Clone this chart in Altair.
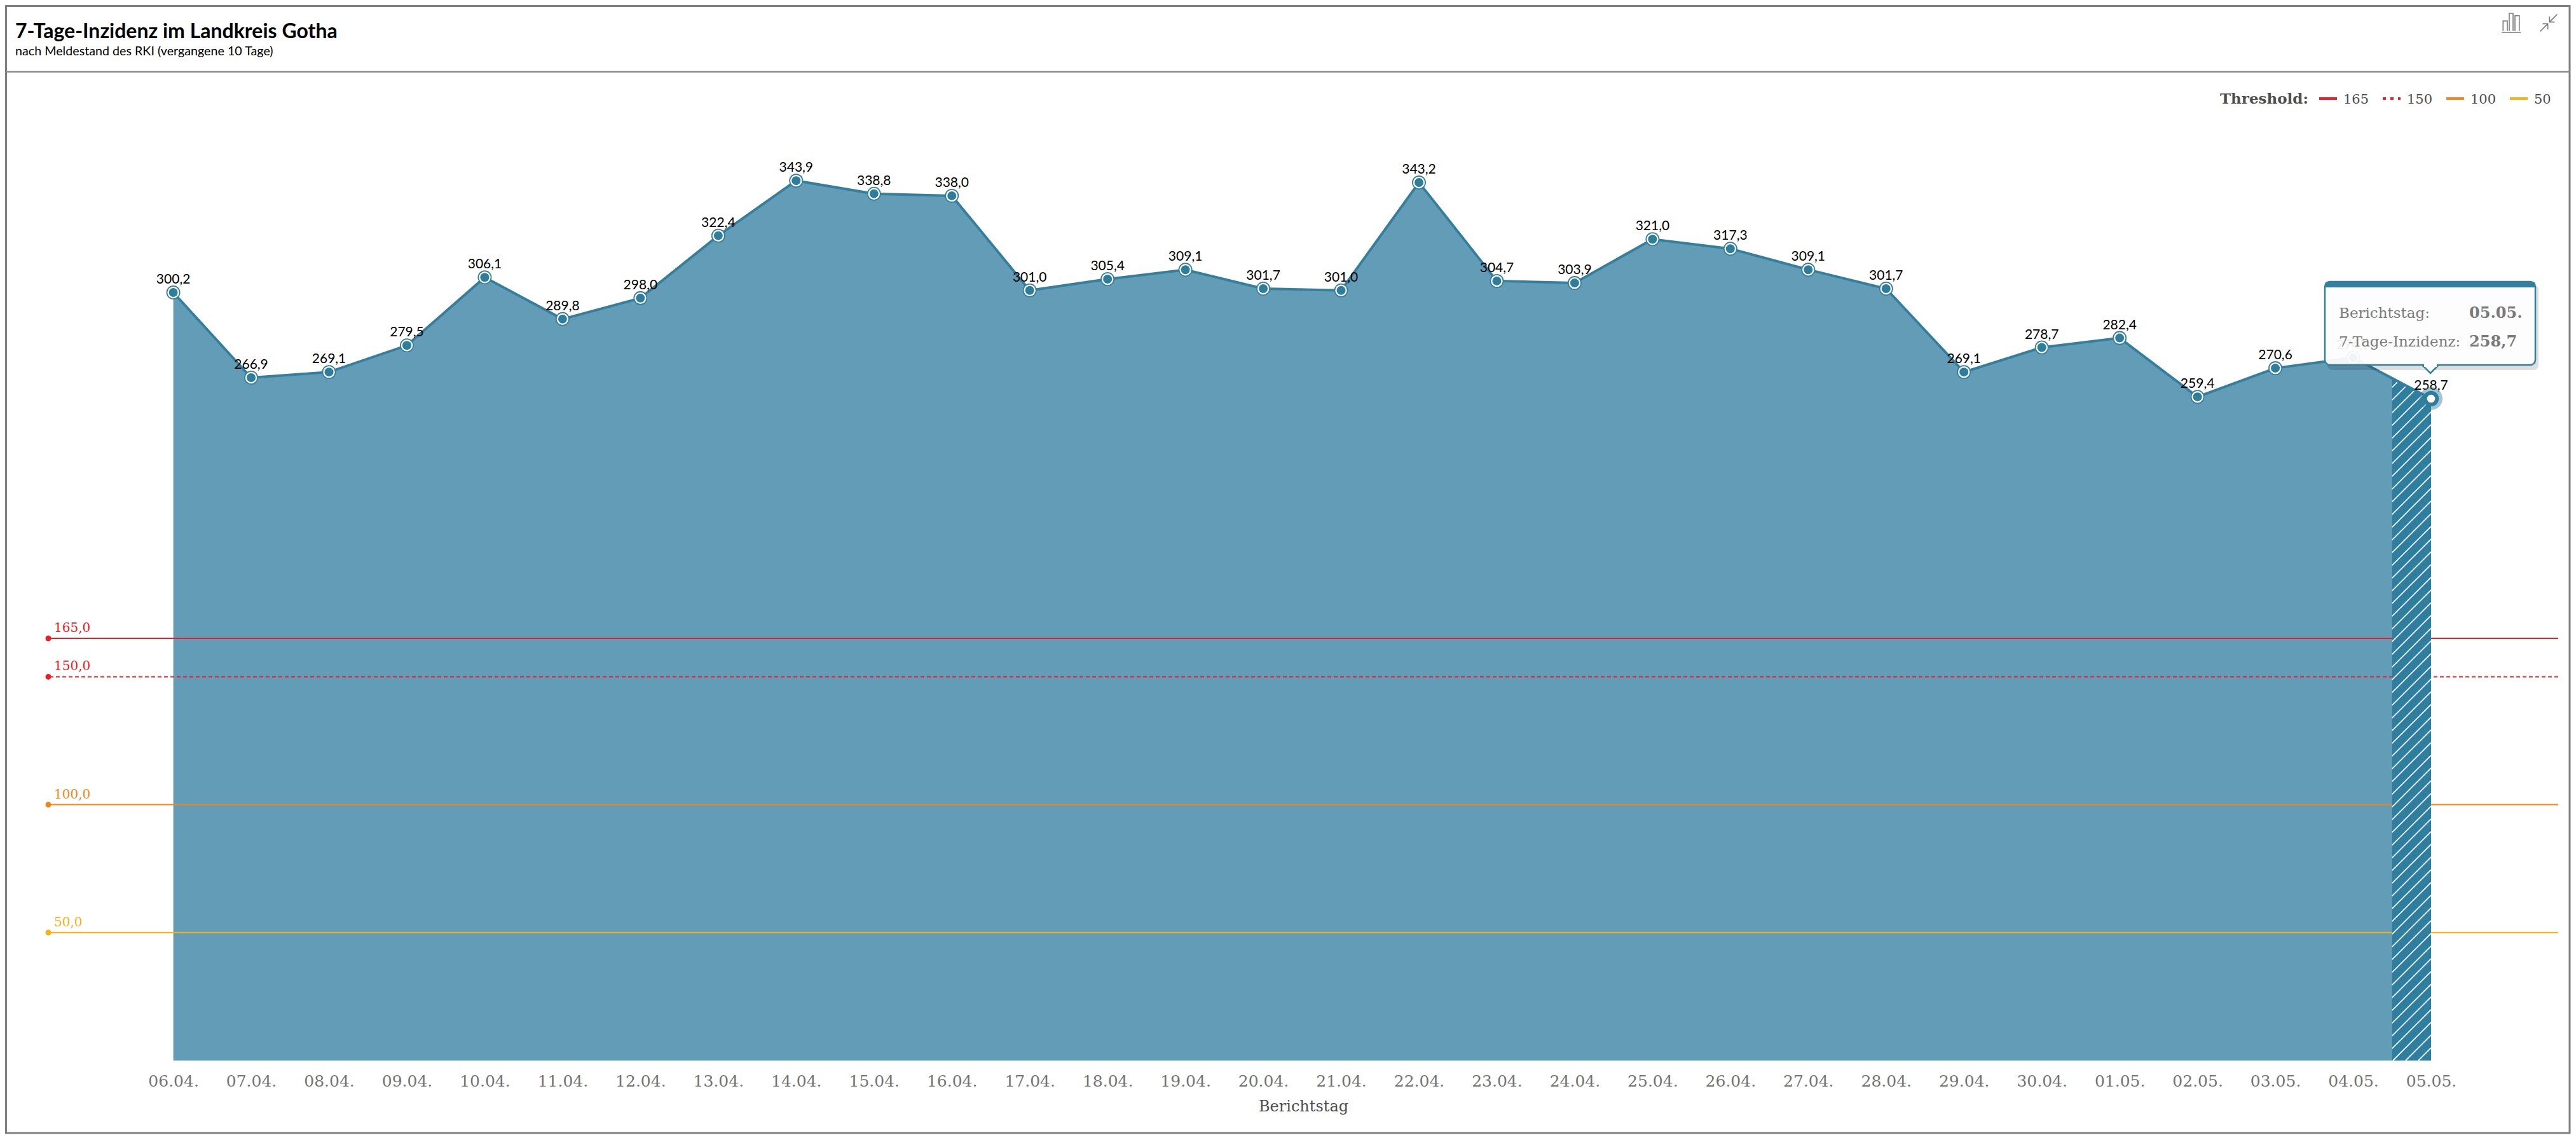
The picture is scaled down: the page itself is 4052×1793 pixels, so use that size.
import altair as alt
import pandas as pd

days = ["06.04.","07.04.","08.04.","09.04.","10.04.","11.04.","12.04.","13.04.","14.04.","15.04.",
        "16.04.","17.04.","18.04.","19.04.","20.04.","21.04.","22.04.","23.04.","24.04.","25.04.",
        "26.04.","27.04.","28.04.","29.04.","30.04.","01.05.","02.05.","03.05.","04.05.","05.05."]
values = [300.2,266.9,269.1,279.5,306.1,289.8,298.0,322.4,343.9,338.8,
          338.0,301.0,305.4,309.1,301.7,301.0,343.2,304.7,303.9,321.0,
          317.3,309.1,301.7,269.1,278.7,282.4,259.4,270.6,274.7,258.7]
threshold_values = [165, 150, 100, 50]
threshold_colors = ["#ee1c25", "#ee1c25", "#f08519", "#f7b015"]
threshold_labels = ["165,0", "150,0", "100,0", "50,0"]

SERIF = "DejaVu Serif"
SANS = "Lato"
LINE = "#347f9e"
FILL = "#639cb7"
DARK = "#2e7d9c"

# page geometry
PX_L, PX_R, PX_T, PX_B = 76, 4024, 8, 1668
W, H = PX_R - PX_L, PX_B - PX_T
PX_FIRST, PX_LAST = 272.6, 3824
STEP = (PX_LAST - PX_FIRST) / (len(days) - 1)
UNIT = 4.024
x_dom = [-(PX_FIRST - PX_L) / STEP, (len(days) - 1) + (PX_R - PX_LAST) / STEP]
y_dom = [0, H / UNIT]

def vx(px):
    return alt.value(px - PX_L)

def vy(py):
    return alt.value(py - PX_T)

df = pd.DataFrame({"i": list(range(len(days))), "day": days, "v": values,
                   "label": [f"{v:.1f}".replace(".", ",") for v in values]})
df_t = pd.DataFrame({"t": threshold_values, "c": threshold_colors, "label": threshold_labels,
                     "dash": [0, 1, 0, 0]})

xs = alt.Scale(domain=x_dom, nice=False, zero=False)
ys = alt.Scale(domain=y_dom, nice=False, zero=True)
label_expr = "[" + ",".join(f"'{d}'" for d in days) + "][datum.value]"
X = alt.X("i:Q", scale=xs, axis=None)
Y = alt.Y("v:Q", scale=ys, axis=None)

base = alt.Chart(df)

frame = alt.Chart(pd.DataFrame({"a": [0]})).mark_rect(fill="white", stroke="#808080", strokeWidth=3).encode(
    x=vx(9.5), x2=vx(4042), y=vy(9.5), y2=vy(1782))
sep = alt.Chart(pd.DataFrame({"a": [0]})).mark_rule(color="#8c8c8c", strokeWidth=2.5).encode(
    x=vx(9.5), x2=vx(4042), y=vy(113))

axis_layer = base.mark_area(color=FILL, opacity=1, line=False).encode(
    x=alt.X("i:Q", scale=xs, title="Berichtstag",
            axis=alt.Axis(values=list(range(len(days))), labelExpr=label_expr, grid=False, domain=False,
                          ticks=False, labelFont=SERIF, labelFontSize=25, labelColor="#737373",
                          labelPadding=20, labelOverlap=False, labelFlush=False, zindex=1,
                          titleFont=SERIF, titleFontSize=24, titleFontWeight="normal",
                          titleColor="#4d4d4d", titlePadding=15)),
    y=Y)

rules = alt.Chart(df_t).mark_rule(strokeWidth=2).encode(
    y=alt.Y("t:Q", scale=ys, axis=None),
    color=alt.Color("c:N", scale=None),
    strokeDash=alt.StrokeDash("dash:N", scale=alt.Scale(domain=[0, 1], range=[[1, 0], [6, 4]]), legend=None))
dots = alt.Chart(df_t).mark_circle(size=81, opacity=1).encode(
    x=alt.value(0), y=alt.Y("t:Q", scale=ys, axis=None), color=alt.Color("c:N", scale=None))
t_labels = alt.Chart(df_t).mark_text(font=SERIF, fontSize=20, align="left", dx=9, dy=-10, baseline="alphabetic", fontWeight=500).encode(
    x=alt.value(0), y=alt.Y("t:Q", scale=ys, axis=None), text="label:N", color=alt.Color("c:N", scale=None))

# hatched last segment
mid = (values[-2] + values[-1]) / 2
last_i = len(days) - 1
x0 = last_i - 0.5
df_h = pd.DataFrame({"i": [x0, last_i], "v": [mid, values[-1]]})
hatch_base = alt.Chart(df_h).mark_area(color=DARK, opacity=0.96).encode(x=alt.X("i:Q", scale=xs, axis=None), y=Y)

rows = []
slope = STEP / UNIT          # value units per day at 45 degrees
gap = 20 / UNIT              # vertical distance between hatch lines
m = (values[-1] - mid) / 0.5
k = 0
c = -0.5 * slope
while c < mid:
    sx = 0.0 if c >= 0 else -c / slope
    sy = c + sx * slope
    ex = min(0.5, (mid - c) / (slope - m))
    ey = c + ex * slope
    if ex > sx:
        rows += [{"k": k, "i": x0 + sx, "v": sy}, {"k": k, "i": x0 + ex, "v": ey}]
    k += 1
    c += gap
hatch = alt.Chart(pd.DataFrame(rows)).mark_line(color="white", strokeWidth=1.8, opacity=0.9).encode(
    x=alt.X("i:Q", scale=xs, axis=None), y=Y, detail="k:N")

line = base.mark_line(color=LINE, strokeWidth=4).encode(x=X, y=Y)
p_out = base.mark_circle(size=484, color=LINE, opacity=1).encode(x=X, y=Y)
p_mid = base.mark_circle(size=340, color="white", opacity=1).encode(x=X, y=Y)
p_in = base.mark_circle(size=196, color=DARK, opacity=1).encode(x=X, y=Y)
labels = base.mark_text(font=SANS, fontSize=21, color="black", dy=-14, baseline="alphabetic", align="center").encode(
    x=X, y=Y, text="label:N")

df_last = df.iloc[[-1]]
halo = alt.Chart(df_last).mark_circle(size=1296, color="#347f9e", opacity=0.45).encode(x=X, y=Y)
halo2 = alt.Chart(df_last).mark_circle(size=600, color=DARK, opacity=1).encode(x=X, y=Y)
halo3 = alt.Chart(df_last).mark_circle(size=160, color="white", opacity=1).encode(x=X, y=Y)

one = pd.DataFrame({"a": [0]})

def box(x1, x2, y1, y2, **kw):
    return alt.Chart(one).mark_rect(**kw).encode(x=vx(x1), x2=vx(x2), y=vy(y1), y2=vy(y2))

def txt(s, px, py, **kw):
    return alt.Chart(pd.DataFrame({"s": [s]})).mark_text(baseline="alphabetic", **kw).encode(
        x=vx(px), y=vy(py), text="s:N")

# tooltip
tip_shadow = box(3661, 3993, 448, 582, fill="#000000", opacity=0.13, cornerRadius=8)
tip_caret = alt.Chart(one).mark_point(shape="M-1,-1L0,0L1,-1Z", size=676, fill="white", stroke=LINE, strokeWidth=2.5, opacity=1, filled=True).encode(
    x=vx(3823), y=vy(587))
tip_box = box(3657, 3988, 443, 574, fill="white", fillOpacity=0.93, stroke=LINE, strokeWidth=2.5, cornerRadius=8)
tip_head = box(3657, 3988, 443, 452, fill=LINE, cornerRadiusTopLeft=8, cornerRadiusTopRight=8)
tip_gap = box(3813, 3833, 572, 577, fill="white")
tip_texts = [
    txt("Berichtstag:", 3679, 500, font=SERIF, fontSize=23, color="#7a7a7a", align="left"),
    txt("7-Tage-Inzidenz:", 3679, 545, font=SERIF, fontSize=23, color="#7a7a7a", align="left"),
    txt(days[-1], 3884, 500, font=SERIF, fontSize=24, fontWeight="bold", color="#7a7a7a", align="left"),
    txt(df["label"].iloc[-1], 3884, 545, font=SERIF, fontSize=24, fontWeight="bold", color="#7a7a7a", align="left"),
]

# header
header = [
    txt("7-Tage-Inzidenz im Landkreis Gotha", 24, 60, font=SANS, fontSize=32, fontWeight="bold", color="black", align="left"),
    txt("nach Meldestand des RKI (vergangene 10 Tage)", 24, 87, font=SANS, fontSize=19.7, color="black", align="left"),
]

# threshold key
key = [txt("Threshold:", 3492, 163, font=SERIF, fontSize=23, fontWeight="bold", color="#4d4d4d", align="left")]
swatch_x = [3648, 3748, 3848, 3948]
key_names = ["165", "150", "100", "50"]
for sx, name, col, dash in zip(swatch_x, key_names, threshold_colors, [False, True, False, False]):
    kw = {"strokeDash": [5, 7]} if dash else {}
    key.append(alt.Chart(one).mark_rule(color=col, strokeWidth=4, **kw).encode(
        x=vx(sx), x2=vx(sx + 28), y=vy(155)))
    key.append(txt(name, sx + 38, 163, font=SERIF, fontSize=21, color="#4d4d4d", align="left"))

# toolbar icons
icon_bar = alt.Chart(one).mark_point(
    shape="M-1,1H1M-0.85,0.85V-0.2H-0.4V0.85M-0.2,0.85V-1H0.2V0.85M0.4,0.85V-0.75H0.85V0.85",
    size=900, filled=False, stroke="#7a7a7a", strokeWidth=1.6, opacity=1).encode(x=vx(3950), y=vy(36))
icon_min = alt.Chart(one).mark_point(
    shape="M-1,1L-0.1,0.1M-0.7,0.1H-0.1V0.75M1,-1L0.1,-0.1M0.7,-0.1H0.1V-0.75",
    size=729, filled=False, stroke="#7a7a7a", strokeWidth=1.6, opacity=1).encode(x=vx(4009), y=vy(36))

chart = alt.layer(
    frame, sep, axis_layer, rules, dots, t_labels, hatch_base, hatch, line, p_out, p_mid, p_in, labels,
    halo, halo2, halo3, tip_shadow, tip_caret, tip_box, tip_head, tip_gap, *tip_texts, *header, *key, icon_bar, icon_min
).resolve_axis(x="independent", y="independent").properties(
    width=W, height=H,
    autosize=alt.AutoSizeParams(type="none"),
    padding={"left": PX_L - 8, "top": 0, "right": 4044 - PX_R, "bottom": 1784 - PX_B},
).configure_view(stroke=None)

chart.save("out.html", embed_options={"renderer": "svg", "actions": False})
